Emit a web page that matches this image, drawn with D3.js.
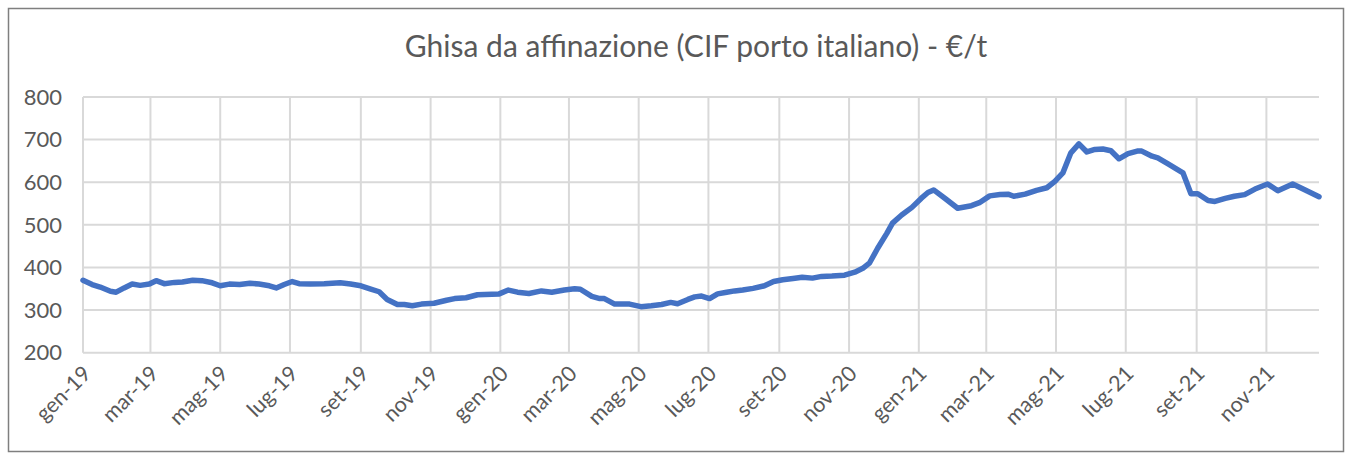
<!DOCTYPE html>
<html><head><meta charset="utf-8">
<script src="https://cdn.jsdelivr.net/npm/d3@7"></script>
<style>
body{margin:0;background:#fff}
text{font-family:Lato,"Open Sans",sans-serif;fill:#595959}
</style>
</head><body>
<svg id="c" width="1352" height="458"></svg>
<script>
const title = "Ghisa da affinazione (CIF porto italiano) - €/t";

const dates = [
"2019-01-01","2019-01-09","2019-01-16","2019-01-25","2019-01-30","2019-02-06","2019-02-13","2019-02-20","2019-02-28",
"2019-03-06","2019-03-13","2019-03-22","2019-03-29","2019-04-07","2019-04-15","2019-04-24","2019-05-01","2019-05-09",
"2019-05-18","2019-05-27","2019-06-04","2019-06-13","2019-06-19","2019-06-26","2019-07-03","2019-07-09","2019-07-19",
"2019-07-31","2019-08-14","2019-08-23","2019-09-01","2019-09-09","2019-09-17","2019-09-24","2019-10-03","2019-10-09",
"2019-10-16","2019-10-24","2019-11-04","2019-11-15","2019-11-22","2019-12-02","2019-12-12","2019-12-31",
"2020-01-08","2020-01-16","2020-01-26","2020-02-06","2020-02-15","2020-02-26","2020-03-06","2020-03-11","2020-03-21",
"2020-03-28","2020-04-01","2020-04-10","2020-04-23","2020-05-03","2020-05-12","2020-05-21","2020-05-29","2020-06-04",
"2020-06-13","2020-06-19","2020-06-25","2020-07-02","2020-07-09","2020-07-17","2020-07-24","2020-07-31","2020-08-09",
"2020-08-19","2020-08-27","2020-09-04","2020-09-13","2020-09-21","2020-09-30","2020-10-08","2020-10-17","2020-10-28",
"2020-11-06","2020-11-13","2020-11-19","2020-11-26","2020-12-04","2020-12-09","2020-12-17","2020-12-26",
"2021-01-03","2021-01-09","2021-01-14","2021-01-24","2021-02-04","2021-02-16","2021-02-23","2021-03-04","2021-03-13",
"2021-03-20","2021-03-25","2021-04-04","2021-04-14","2021-04-23","2021-04-30","2021-05-07","2021-05-14","2021-05-21",
"2021-05-28","2021-06-04","2021-06-11","2021-06-18","2021-06-25","2021-07-03","2021-07-11","2021-07-15","2021-07-24",
"2021-07-29","2021-08-07","2021-08-20","2021-08-27","2021-09-02","2021-09-11","2021-09-17","2021-09-26","2021-10-04",
"2021-10-13","2021-10-22","2021-11-02","2021-11-11","2021-11-24","2021-12-04","2021-12-17"
];

const values = [
370,360,354,344,342,352,361,358,361,
369,362,365,366,370,369,364,357,361,
360,363,361,357,352,360,367,362,361,
362,364,361,357,350,343,325,313,313,
310,314,316,323,327,329,336,338,
347,342,339,345,342,347,350,349,332,
327,327,314,314,308,310,313,318,315,
325,331,333,327,338,342,345,347,351,
357,367,371,374,377,375,379,380,382,
389,398,411,445,480,504,523,541,
562,576,582,562,539,545,552,568,571,
572,567,572,581,587,602,622,669,690,
671,677,678,674,655,667,673,673,661,
657,643,622,573,573,557,555,562,567,
571,584,596,580,596,583,566
];

const monthLabels = ["gen","feb","mar","apr","mag","giu","lug","ago","set","ott","nov","dic"];
const yTicks = [200,300,400,500,600,700,800];
const yDomain = [200,800];
const xDomain = ["2019-01-01","2021-12-17"];

const parse = d3.timeParse("%Y-%m-%d");
const data = dates.map((d,i)=>({date:parse(d), value:values[i]}));

const svg = d3.select("#c");
const L = 83, R = 1319, T = 97, B = 352.7;

svg.append("rect").attr("x",8.5).attr("y",8.5).attr("width",1335).attr("height",443)
  .attr("fill","#fff").attr("stroke","#7f7f7f").attr("stroke-width",1.5);

svg.append("text").attr("x",696).attr("y",57).attr("text-anchor","middle")
  .style("font-size","30px").text(title);

const x = d3.scaleTime().domain(xDomain.map(parse)).range([L,R]);
const y = d3.scaleLinear().domain(yDomain).range([B,T]);

svg.append("g").selectAll("line").data(yTicks).join("line")
  .attr("x1",L).attr("x2",R).attr("y1",d=>y(d)).attr("y2",d=>y(d))
  .attr("stroke","#d9d9d9").attr("stroke-width",2);

const xTicks = x.ticks(d3.timeMonth.every(2));
svg.append("g").selectAll("line").data(xTicks).join("line")
  .attr("x1",d=>x(d)).attr("x2",d=>x(d)).attr("y1",T).attr("y2",B)
  .attr("stroke","#d9d9d9").attr("stroke-width",2);

svg.append("g").selectAll("text").data(yTicks).join("text")
  .attr("x",62).attr("y",d=>y(d)).attr("dy","0.35em").attr("text-anchor","end")
  .style("font-size","22px").text(d=>d);

const fmtYear = d3.timeFormat("%y");
svg.append("g").selectAll("text").data(xTicks).join("text")
  .attr("text-anchor","end")
  .attr("transform",d=>`translate(${x(d)+4},${B+17}) rotate(-45)`)
  .attr("dy","0.35em")
  .style("font-size","21.5px")
  .text(d=>monthLabels[d.getMonth()]+"-"+fmtYear(d));

const line = d3.line().x(d=>x(d.date)).y(d=>y(d.value));
svg.append("path").datum(data).attr("d",line)
  .attr("fill","none").attr("stroke","#4472c4").attr("stroke-width",5.5)
  .attr("stroke-linejoin","round").attr("stroke-linecap","round");
</script>
</body></html>
